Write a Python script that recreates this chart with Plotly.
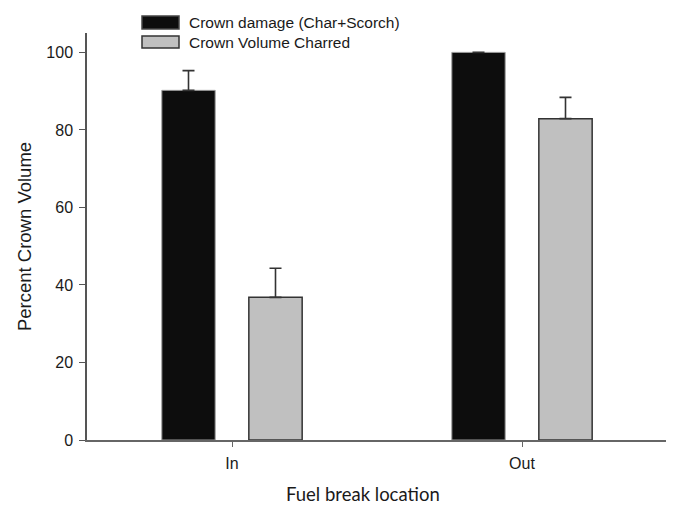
import plotly.graph_objects as go

categories = ["In", "Out"]
series_names = ["Crown damage (Char+Scorch)", "Crown Volume Charred"]
damage_values = [90.2, 100.0]
damage_err = [5.1, 0.0]
charred_values = [36.8, 82.9]
charred_err = [7.5, 5.5]
y_ticks = [0, 20, 40, 60, 80, 100]

x_pos = list(range(len(categories)))

fig = go.Figure()
fig.add_trace(go.Bar(
    x=x_pos, y=damage_values, name=series_names[0],
    marker=dict(color="#0d0d0d", line=dict(color="#9a9a9a", width=1)),
    error_y=dict(type="data", symmetric=False, array=damage_err,
                 arrayminus=[0] * len(damage_err), color="#333333",
                 thickness=1.6, width=6),
    showlegend=False,
))
fig.add_trace(go.Bar(
    x=x_pos, y=charred_values, name=series_names[1],
    marker=dict(color="#c0c0c0", line=dict(color="#333333", width=1.5)),
    error_y=dict(type="data", symmetric=False, array=charred_err,
                 arrayminus=[0] * len(charred_err), color="#333333",
                 thickness=1.6, width=6),
    showlegend=False,
))

# page body has an 8px margin; figure is sized/offset to compensate
OFF = 8
W, H = 674 - OFF, 506 - OFF
L, R, T, B = 87 - OFF, 7, 33 - OFF, 66
pw, ph = W - L - R, H - T - B

def px_x(px):
    return (px - OFF - L) / pw

def px_y(py):
    return (H - B - (py - OFF)) / ph

shapes = []
annotations = []
legend_styles = [("#0d0d0d", "#444444"), ("#c0c0c0", "#333333")]
legend_rows = [(16, 29, 23), (36, 48, 42.5)]
for name, (fill, edge), (top, bot, mid) in zip(series_names, legend_styles, legend_rows):
    shapes.append(dict(type="rect", xref="paper", yref="paper",
                       x0=px_x(142), x1=px_x(179), y0=px_y(bot), y1=px_y(top),
                       fillcolor=fill, line=dict(color=edge, width=1.5)))
    annotations.append(dict(text=name, xref="paper", yref="paper",
                            x=px_x(187), y=px_y(mid), xanchor="left", yanchor="middle",
                            showarrow=False,
                            font=dict(family="Liberation Sans, Arial", size=15.5, color="#1a1a1a")))

annotations.append(dict(text="Fuel break location", xref="paper", yref="paper",
                        x=px_x(363), y=px_y(494), xanchor="center", yanchor="middle",
                        showarrow=False,
                        font=dict(family="Lato, Open Sans", size=18.5, color="#1a1a1a")))

fig.update_layout(
    width=W, height=H,
    margin=dict(l=L, r=R, t=T, b=B, pad=0),
    paper_bgcolor="white", plot_bgcolor="white",
    barmode="group", bargap=0.4, bargroupgap=0.387,
    shapes=shapes, annotations=annotations,
    font=dict(family="Liberation Sans, Arial", color="#1a1a1a"),
)
fig.update_xaxes(
    range=[-0.5, 1.5], tickmode="array", tickvals=x_pos, ticktext=categories,
    showgrid=False, zeroline=False, showline=True, linecolor="#666666", linewidth=1.5,
    ticks="outside", ticklen=5, tickwidth=1.2, tickcolor="#666666",
    tickfont=dict(size=16, color="#1a1a1a"), ticklabelstandoff=3,
)
fig.update_yaxes(
    range=[0, 105], tickmode="array", tickvals=y_ticks,
    showgrid=False, zeroline=False, showline=True, linecolor="#555555", linewidth=1.5,
    ticks="outside", ticklen=6, tickwidth=1.2, tickcolor="#555555",
    tickfont=dict(size=16, color="#1a1a1a"), ticklabelstandoff=3,
    title=dict(text="Percent Crown Volume", font=dict(size=18.5, color="#1a1a1a"), standoff=10),
)

fig.write_html("out.html")
